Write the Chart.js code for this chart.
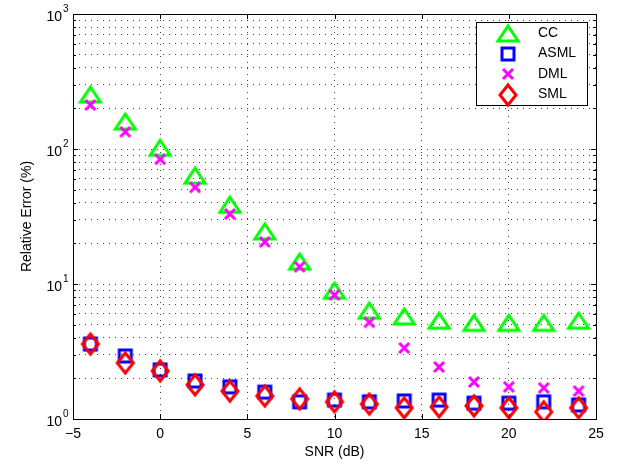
<!DOCTYPE html>
<html lang="en">
<head>
<meta charset="UTF-8">
<title>Relative Error vs SNR</title>
<script src="https://cdn.jsdelivr.net/npm/chart.js"></script>
<style>
  html, body { margin: 0; padding: 0; background: #fff; }
</style>
</head>
<body>
<canvas id="errChart" width="623" height="466"></canvas>
<script>
// data (relative error in %)
const snr = [-4, -2, 0, 2, 4, 6, 8, 10, 12, 14, 16, 18, 20, 22, 24];
const ccErr   = [255, 161, 103, 64, 39, 24.7, 14.8, 9.0, 6.4, 5.8, 5.4, 5.2, 5.2, 5.2, 5.4];
const asmlErr = [3.59, 2.93, 2.31, 1.91, 1.73, 1.58, 1.34, 1.38, 1.34, 1.36, 1.38, 1.31, 1.31, 1.34, 1.27];
const dmlErr  = [212, 134, 84, 52, 33, 20.5, 13.4, 8.3, 5.2, 3.36, 2.43, 1.88, 1.73, 1.70, 1.61];
const smlErr  = [3.59, 2.60, 2.27, 1.79, 1.61, 1.48, 1.41, 1.34, 1.29, 1.21, 1.23, 1.25, 1.21, 1.13, 1.21];
const seriesNames = ['CC', 'ASML', 'DML', 'SML'];
const xTicks = [-5, 0, 5, 10, 15, 20, 25];
const yDecades = [0, 1, 2, 3];

const FONT = "'Liberation Sans', Arial, Helvetica, sans-serif";
const gridColor = 'rgba(0,0,0,0.75)';

// y grid at every 1..9 x 10^n, like matlab's minor log grid
const yGridVals = [];
for (let d = 0; d < yDecades.length - 1; d++) {
  for (let m = 1; m <= 9; m++) yGridVals.push(m * Math.pow(10, yDecades[d]));
}
yGridVals.push(Math.pow(10, yDecades[yDecades.length - 1]));

// marker images, drawn once and used as pointStyle
function makeMarker(kind, color) {
  const c = document.createElement('canvas');
  c.width = 28; c.height = 28;
  const g = c.getContext('2d');
  g.strokeStyle = color;
  g.lineWidth = 3;
  g.lineJoin = 'miter';
  g.beginPath();
  if (kind === 'triangle') {
    g.moveTo(14, 7); g.lineTo(24, 22); g.lineTo(4, 22); g.closePath();
  } else if (kind === 'square') {
    g.rect(8, 8, 12, 12);
  } else if (kind === 'cross') {
    g.moveTo(9, 9); g.lineTo(19, 19);
    g.moveTo(19, 9); g.lineTo(9, 19);
  } else if (kind === 'diamond') {
    g.moveTo(14, 4); g.lineTo(22, 14); g.lineTo(14, 24); g.lineTo(6, 14); g.closePath();
  }
  g.stroke();
  return c;
}

const markers = [
  makeMarker('triangle', '#00ff00'),
  makeMarker('square', '#0000ff'),
  makeMarker('cross', '#ff00ff'),
  makeMarker('diamond', '#ff0000')
];

function pts(ys) {
  return snr.map((x, i) => ({ x: x, y: ys[i] }));
}

const frameAndLabels = {
  id: 'frameAndLabels',
  afterDatasetsDraw(chart) {
    const ctx = chart.ctx;
    const a = chart.chartArea;
    const xs = chart.scales.x, ys = chart.scales.y;
    ctx.save();
    ctx.strokeStyle = '#000';
    ctx.lineWidth = 1;
    ctx.beginPath();
    // inward ticks on all four sides
    xTicks.forEach(v => {
      const px = Math.round(xs.getPixelForValue(v)) + 0.5;
      ctx.moveTo(px, a.bottom); ctx.lineTo(px, a.bottom - 5);
      ctx.moveTo(px, a.top); ctx.lineTo(px, a.top + 5);
    });
    yGridVals.forEach(v => {
      const py = Math.round(ys.getPixelForValue(v)) + 0.5;
      const major = Math.abs(Math.log10(v) % 1) < 1e-9;
      const len = major ? 5 : 3;
      ctx.moveTo(a.left, py); ctx.lineTo(a.left + len, py);
      ctx.moveTo(a.right, py); ctx.lineTo(a.right - len, py);
    });
    ctx.stroke();
    ctx.strokeRect(Math.round(a.left) + 0.5, Math.round(a.top) + 0.5,
      Math.round(a.right - a.left), Math.round(a.bottom - a.top));

    // 10^n labels with raised exponent
    ctx.fillStyle = '#000';
    yDecades.forEach(d => {
      const py = ys.getPixelForValue(Math.pow(10, d));
      ctx.font = '14px ' + FONT;
      ctx.textAlign = 'right';
      ctx.textBaseline = 'middle';
      ctx.fillText('10', 62, py + 3);
      ctx.font = '10px ' + FONT;
      ctx.textAlign = 'left';
      ctx.fillText(String(d), 63, py - 5);
    });
    ctx.restore();
  }
};

const boxLegend = {
  id: 'boxLegend',
  afterDraw(chart) {
    const ctx = chart.ctx;
    const bx = 476, by = 22, bw = 111, bh = 83;
    ctx.save();
    ctx.fillStyle = '#fff';
    ctx.fillRect(bx, by, bw, bh);
    ctx.strokeStyle = '#000';
    ctx.lineWidth = 1;
    ctx.strokeRect(bx + 0.5, by + 0.5, bw, bh);
    ctx.font = '14px ' + FONT;
    ctx.fillStyle = '#000';
    ctx.textAlign = 'left';
    ctx.textBaseline = 'middle';
    chart.data.datasets.forEach((ds, i) => {
      const cy = by + 11 + i * 20.5;
      const m = ds.pointStyle;
      ctx.drawImage(m, 508 - m.width / 2, Math.round(cy) - m.height / 2);
      ctx.fillText(ds.label, 538, cy);
    });
    ctx.restore();
  }
};

new Chart(document.getElementById('errChart'), {
  type: 'scatter',
  data: {
    datasets: [ccErr, asmlErr, dmlErr, smlErr].map((ys, i) => ({
      label: seriesNames[i],
      data: pts(ys),
      pointStyle: markers[i],
      pointRadius: 10,
      showLine: false,
      order: 4 - i
    }))
  },
  options: {
    responsive: false,
    animation: false,
    layout: { padding: { left: 10, right: 27, top: 14, bottom: 0 } },
    plugins: { legend: { display: false }, tooltip: { enabled: false } },
    scales: {
      x: {
        type: 'linear', min: -5, max: 25,
        afterBuildTicks: s => { s.ticks = xTicks.map(v => ({ value: v })); },
        afterFit: s => { s.height = 47; },
        grid: { color: gridColor, lineWidth: 1, drawTicks: false },
        border: { display: false, dash: [1, 5] },
        ticks: {
          autoSkip: false, maxRotation: 0, padding: 7, color: '#000',
          font: { family: FONT, size: 14 },
          callback: v => v < 0 ? '\u2212' + Math.abs(v) : String(v)
        },
        title: {
          display: true, text: 'SNR (dB)', color: '#000',
          font: { family: FONT, size: 14 },
          padding: { top: 0, bottom: 5 }
        }
      },
      y: {
        type: 'logarithmic', min: 1, max: 1000,
        afterBuildTicks: s => { s.ticks = yGridVals.map(v => ({ value: v })); },
        afterFit: s => { s.width = 63; },
        grid: { color: gridColor, lineWidth: 1, drawTicks: false },
        border: { display: false, dash: [1, 5] },
        ticks: { display: false, autoSkip: false },
        title: {
          display: true, text: 'Relative Error (%)', color: '#000',
          font: { family: FONT, size: 14 },
          padding: { top: 9, bottom: 0 }
        }
      }
    }
  },
  plugins: [frameAndLabels, boxLegend]
});
</script>
</body>
</html>
